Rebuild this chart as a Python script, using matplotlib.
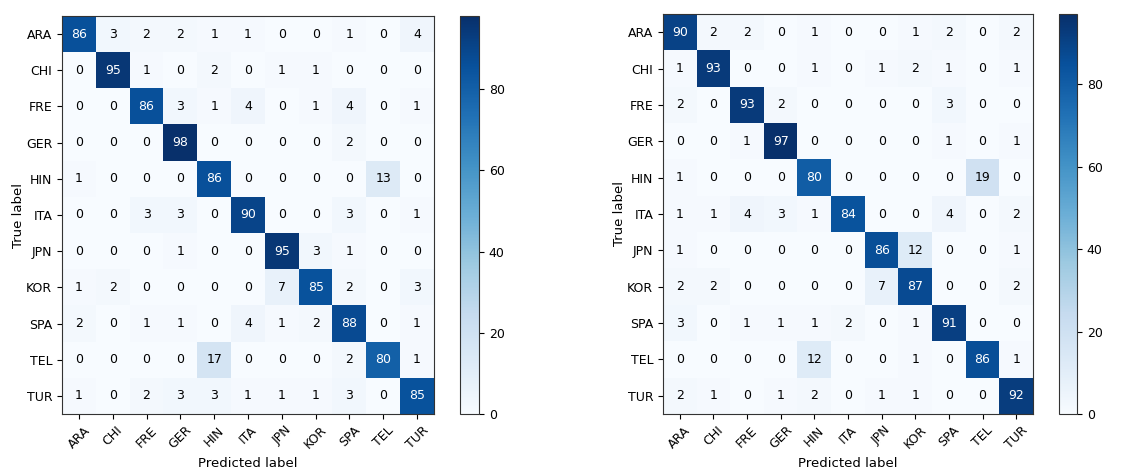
import numpy as np
import matplotlib
matplotlib.use("Agg")
import matplotlib.pyplot as plt

classes = ["ARA", "CHI", "FRE", "GER", "HIN", "ITA", "JPN", "KOR", "SPA", "TEL", "TUR"]

cm_left = [
    [86, 3, 2, 2, 1, 1, 0, 0, 1, 0, 4],
    [0, 95, 1, 0, 2, 0, 1, 1, 0, 0, 0],
    [0, 0, 86, 3, 1, 4, 0, 1, 4, 0, 1],
    [0, 0, 0, 98, 0, 0, 0, 0, 2, 0, 0],
    [1, 0, 0, 0, 86, 0, 0, 0, 0, 13, 0],
    [0, 0, 3, 3, 0, 90, 0, 0, 3, 0, 1],
    [0, 0, 0, 1, 0, 0, 95, 3, 1, 0, 0],
    [1, 2, 0, 0, 0, 0, 7, 85, 2, 0, 3],
    [2, 0, 1, 1, 0, 4, 1, 2, 88, 0, 1],
    [0, 0, 0, 0, 17, 0, 0, 0, 2, 80, 1],
    [1, 0, 2, 3, 3, 1, 1, 1, 3, 0, 85],
]

cm_right = [
    [90, 2, 2, 0, 1, 0, 0, 1, 2, 0, 2],
    [1, 93, 0, 0, 1, 0, 1, 2, 1, 0, 1],
    [2, 0, 93, 2, 0, 0, 0, 0, 3, 0, 0],
    [0, 0, 1, 97, 0, 0, 0, 0, 1, 0, 1],
    [1, 0, 0, 0, 80, 0, 0, 0, 0, 19, 0],
    [1, 1, 4, 3, 1, 84, 0, 0, 4, 0, 2],
    [1, 0, 0, 0, 0, 0, 86, 12, 0, 0, 1],
    [2, 2, 0, 0, 0, 0, 7, 87, 0, 0, 2],
    [3, 0, 1, 1, 1, 2, 0, 1, 91, 0, 0],
    [0, 0, 0, 0, 12, 0, 0, 1, 0, 86, 1],
    [2, 1, 0, 1, 2, 0, 1, 1, 0, 0, 92],
]

plt.rcParams['font.family'] = ['DejaVu Sans']
plt.rcParams['font.size'] = 9

W, H = 1146, 468
fig = plt.figure(figsize=(W / 100, H / 100), dpi=100)


def px(l, t, r, b):
    return [l / W, (H - b) / H, (r - l) / W, (b - t) / H]


def draw(cm, ax_rect, cb_rect):
    cm = np.array(cm)
    ax = fig.add_axes(px(*ax_rect))
    cax = fig.add_axes(px(*cb_rect))
    im = ax.imshow(cm, interpolation='nearest', cmap=plt.cm.Blues, aspect='auto')
    cb = fig.colorbar(im, cax=cax)
    cb.set_ticks([0, 20, 40, 60, 80])
    ticks = np.arange(len(classes))
    ax.set_xticks(ticks)
    ax.set_xticklabels(classes, rotation=45)
    ax.set_yticks(ticks)
    ax.set_yticklabels(classes)
    for sp in list(ax.spines.values()) + [cb.outline]:
        sp.set_edgecolor('#333333')
    thresh = cm.max() / 2.
    for i in range(cm.shape[0]):
        for j in range(cm.shape[1]):
            ax.text(j, i, format(cm[i, j], 'd'), ha='center', va='center',
                    color='white' if cm[i, j] > thresh else 'black', fontsize=9)
    ax.set_ylabel('True label', fontsize=9.5, labelpad=1)
    ax.set_xlabel('Predicted label', fontsize=9.5)


draw(cm_left, (62, 16, 434, 414), (460, 16, 479, 414))
draw(cm_right, (663, 14, 1033, 414), (1059, 14, 1077, 414))

fig.savefig('out.png', dpi=100)
